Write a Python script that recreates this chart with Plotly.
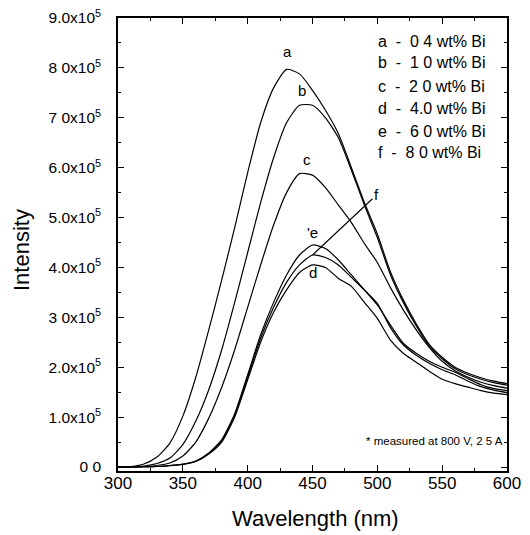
import plotly.graph_objects as go

# Wavelength grid (nm)
wavelength = [300, 310, 320, 330, 340, 350, 360, 370, 380, 390, 400, 410, 420, 430, 440,
              450, 460, 470, 480, 490, 500, 510, 520, 530, 540, 550, 560, 570, 580, 590, 600]

# Intensities in units of 1e5
curve_a = [0.0, 0.01, 0.06, 0.2, 0.48, 1.02, 1.8, 2.75, 3.75, 4.8, 5.9, 6.9, 7.6, 7.97, 7.88,
           7.55, 7.15, 6.68, 6.0, 5.3, 4.67, 3.92, 3.35, 2.87, 2.46, 2.2, 2.0, 1.88, 1.79, 1.72, 1.67]
curve_b = [0.0, 0.005, 0.02, 0.07, 0.18, 0.45, 0.92, 1.55, 2.35, 3.3, 4.3, 5.3, 6.2, 6.9, 7.25,
           7.25, 7.0, 6.6, 5.95, 5.25, 4.6, 3.86, 3.3, 2.83, 2.43, 2.17, 1.97, 1.85, 1.76, 1.69, 1.64]
curve_c = [0.0, 0.0, 0.01, 0.03, 0.08, 0.22, 0.5, 0.98, 1.6, 2.35, 3.2, 4.05, 4.85, 5.5, 5.88,
           5.85, 5.6, 5.25, 4.9, 4.48, 4.1, 3.6, 3.15, 2.75, 2.4, 2.12, 1.93, 1.8, 1.7, 1.63, 1.58]
curve_d = [0.0, 0.0, 0.005, 0.01, 0.025, 0.05, 0.11, 0.26, 0.5, 1.0, 1.75, 2.5, 3.1, 3.55, 3.9,
           4.05, 4.0, 3.78, 3.62, 3.3, 2.98, 2.55, 2.28, 2.1, 1.92, 1.76, 1.67, 1.6, 1.53, 1.48, 1.45]
curve_e = [0.0, 0.0, 0.005, 0.01, 0.03, 0.06, 0.12, 0.28, 0.55, 1.07, 1.85, 2.65, 3.3, 3.85, 4.25,
           4.45, 4.38, 4.15, 3.85, 3.55, 3.25, 2.85, 2.48, 2.28, 2.12, 2.0, 1.9, 1.77, 1.65, 1.57, 1.53]
curve_f = [0.0, 0.0, 0.005, 0.01, 0.03, 0.055, 0.115, 0.27, 0.52, 1.03, 1.8, 2.58, 3.2, 3.7, 4.05,
           4.25, 4.2, 4.05, 3.8, 3.55, 3.28, 2.8, 2.45, 2.24, 2.08, 1.95, 1.85, 1.72, 1.61, 1.54, 1.49]

curves = {"a": curve_a, "b": curve_b, "c": curve_c, "d": curve_d, "e": curve_e, "f": curve_f}

y_tickvals = [0, 1, 2, 3, 4, 5, 6, 7, 8, 9]
y_ticktext = ["0 0", "1.0x10<sup>5</sup>", "2.0x10<sup>5</sup>", "3 0x10<sup>5</sup>",
              "4.0x10<sup>5</sup>", "5.0x10<sup>5</sup>", "6.0x10<sup>5</sup>",
              "7 0x10<sup>5</sup>", "8 0x10<sup>5</sup>", "9.0x10<sup>5</sup>"]
x_tickvals = [300, 350, 400, 450, 500, 550, 600]

legend_lines = ["a  -  0 4 wt% Bi", "b  -  1 0 wt% Bi", "c  -  2 0 wt% Bi",
                "d  -  4.0 wt% Bi", "e  -  6 0 wt% Bi", "f  -  8 0 wt% Bi"]
note_text = "* measured at 800 V, 2 5 A"

FONT = "Liberation Sans, Arial, Helvetica, sans-serif"

fig = go.Figure()
for name, vals in curves.items():
    fig.add_trace(go.Scatter(x=wavelength, y=vals, mode="lines", name=name,
                             line=dict(color="black", width=1.2, shape="spline", smoothing=0.6),
                             showlegend=False, hoverinfo="skip"))

# page body has an 8px margin: work in window pixels, convert to figure pixels
OFF = 8
W, H = 530 - OFF, 535 - OFF
left_px, right_px, top_px, bottom_px = 118, 507, 18, 471   # plot frame in window pixels
ml, mt = left_px - OFF, top_px - OFF
mr, mb = W - (right_px - OFF), H - (bottom_px - OFF)
pw, ph = right_px - left_px, bottom_px - top_px

def px(xp):
    return (xp - left_px) / pw

def py(yp):
    return (bottom_px - yp) / ph

annotations = []
label_pos = {"a": (431, 8.32), "b": (442, 7.55), "c": (446, 6.17), "'e": (450, 4.71), "d": (450, 3.9)}
for t, (lx, ly) in label_pos.items():
    annotations.append(dict(x=lx, y=ly, xref="x", yref="y", text=t, showarrow=False,
                            font=dict(size=15, color="black", family=FONT)))
annotations.append(dict(x=wavelength[15], y=curve_f[15], xref="x", yref="y", text="f",
                        showarrow=True, arrowhead=0, arrowwidth=1.1, arrowcolor="black",
                        ax=64, ay=-60, font=dict(size=15, color="black", family=FONT)))
legend_y = [41, 63, 86, 108, 131, 153]
for t, yy in zip(legend_lines, legend_y):
    annotations.append(dict(x=px(376), y=py(yy), xref="paper", yref="paper", text=t,
                            showarrow=False, xanchor="left", yanchor="middle",
                            font=dict(size=16, color="black", family=FONT)))
annotations.append(dict(x=px(505), y=py(441), xref="paper", yref="paper", text=note_text,
                        showarrow=False, xanchor="right", yanchor="middle",
                        font=dict(size=11.5, color="black", family=FONT)))
annotations.append(dict(x=px(315), y=py(518), xref="paper", yref="paper", text="Wavelength (nm)",
                        showarrow=False, xanchor="center", yanchor="middle",
                        font=dict(size=22, color="black", family=FONT)))
annotations.append(dict(x=px(22), y=py(250), xref="paper", yref="paper", text="Intensity",
                        showarrow=False, textangle=-90, xanchor="center", yanchor="middle",
                        font=dict(size=22, color="black", family=FONT)))

fig.update_layout(
    width=W, height=H,
    margin=dict(l=ml, r=mr, t=mt, b=mb, autoexpand=False),
    paper_bgcolor="white", plot_bgcolor="white",
    font=dict(family=FONT, color="black"),
    annotations=annotations,
    xaxis=dict(range=[300, 600], tickvals=x_tickvals, ticks="inside", ticklen=6, tickwidth=1.2,
               tickcolor="black", showline=True, linecolor="black", linewidth=1.5, mirror="ticks",
               showgrid=False, zeroline=False, tickfont=dict(size=17, family=FONT),
               ticklabelstandoff=-4, ticklabeloverflow="allow",
               minor=dict(ticks="inside", ticklen=3, dtick=25, tick0=300, tickcolor="black", showgrid=False)),
    yaxis=dict(range=[-0.08, 9.0], tickvals=y_tickvals, ticktext=y_ticktext, ticks="inside",
               ticklen=6, tickwidth=1.2, tickcolor="black", showline=True, linecolor="black",
               linewidth=1.5, mirror="ticks", showgrid=False, zeroline=False,
               tickfont=dict(size=15.5, family=FONT), ticklabelstandoff=12, ticklabeloverflow="allow",
               minor=dict(ticks="inside", ticklen=3, dtick=0.5, tick0=0, tickcolor="black", showgrid=False)),
)

fig.write_html("out.html")
